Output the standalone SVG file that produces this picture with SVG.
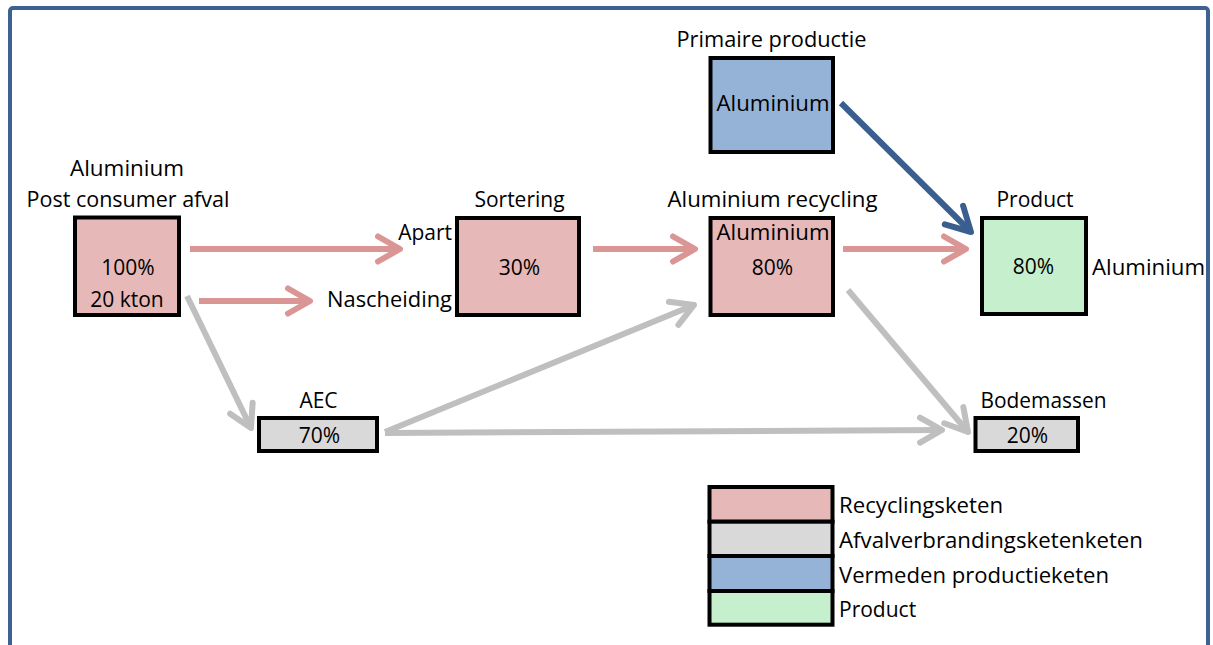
<svg xmlns="http://www.w3.org/2000/svg" width="1213" height="645" viewBox="0 0 1213 645">
<style>
text{font-family:"Open Sans","Liberation Sans",sans-serif;font-size:21px;fill:#000}
.m{text-anchor:middle}
.e{text-anchor:end}
.box{stroke:#000;stroke-width:4}
.pink{fill:#e6b8b7}.gray{fill:#d9d9d9}.blue{fill:#95b3d7}.green{fill:#c6efce}
.conn line{stroke-width:6;fill:none}
.cp{stroke:#da9694}.cg{stroke:#bfbfbf}.cb{stroke:#3a5f8f}
</style>
<defs>
<marker id="ap" markerUnits="userSpaceOnUse" viewBox="-30 -20 40 40" refX="0" refY="0" markerWidth="40" markerHeight="40" orient="auto" overflow="visible"><path d="M-22,-12.5 L0,0 L-22,12.5" fill="none" stroke="#da9694" stroke-width="6" stroke-linecap="round" stroke-linejoin="round"/></marker>
<marker id="ag" markerUnits="userSpaceOnUse" viewBox="-30 -20 40 40" refX="0" refY="0" markerWidth="40" markerHeight="40" orient="auto" overflow="visible"><path d="M-22,-12.5 L0,0 L-22,12.5" fill="none" stroke="#bfbfbf" stroke-width="6" stroke-linecap="round" stroke-linejoin="round"/></marker>
<marker id="ab" markerUnits="userSpaceOnUse" viewBox="-30 -20 40 40" refX="0" refY="0" markerWidth="40" markerHeight="40" orient="auto" overflow="visible"><path d="M-24,-13 L0,0 L-24,13" fill="none" stroke="#3a5f8f" stroke-width="6" stroke-linecap="round" stroke-linejoin="round"/></marker>
</defs>
<rect x="0" y="0" width="1213" height="645" fill="#fff"/>
<rect id="frame" x="10" y="8" width="1198" height="680" rx="3" fill="none" stroke="#3d6190" stroke-width="4"/>

<g id="connectors" class="conn">
<line class="cp" x1="190" y1="249" x2="400" y2="249" marker-end="url(#ap)"/>
<line class="cp" x1="199" y1="301" x2="310" y2="301" marker-end="url(#ap)"/>
<line class="cp" x1="593" y1="249" x2="695" y2="249" marker-end="url(#ap)"/>
<line class="cp" x1="843" y1="249" x2="966" y2="249" marker-end="url(#ap)"/>
<line class="cb" x1="841" y1="103" x2="971" y2="232" marker-end="url(#ab)"/>
<line class="cg" x1="187" y1="296" x2="251" y2="428" marker-end="url(#ag)"/>
<line class="cg" x1="385" y1="432" x2="694" y2="305" marker-end="url(#ag)"/>
<line class="cg" x1="385" y1="433" x2="942" y2="430" marker-end="url(#ag)"/>
<line class="cg" x1="848" y1="290" x2="968" y2="432" marker-end="url(#ag)"/>
</g>

<g id="post-consumer">
<text class="m" x="127" y="176" textLength="114" lengthAdjust="spacingAndGlyphs">Aluminium</text>
<text class="m" x="128" y="207" textLength="203" lengthAdjust="spacingAndGlyphs">Post consumer afval</text>
<rect class="box pink" x="75" y="217.5" width="104" height="97.5"/>
<text class="m" x="128" y="275">100%</text>
<text class="m" x="127" y="307">20 kton</text>
</g>

<g id="labels-sortering">
<text class="e" x="452" y="240">Apart</text>
<text class="e" x="452" y="307" textLength="125" lengthAdjust="spacingAndGlyphs">Nascheiding</text>
</g>

<g id="sortering">
<text class="m" x="519.5" y="207">Sortering</text>
<rect class="box pink" x="457" y="218" width="122" height="97"/>
<text class="m" x="519.5" y="275">30%</text>
</g>

<g id="recycling">
<text class="m" x="772.5" y="207" textLength="210" lengthAdjust="spacingAndGlyphs">Aluminium recycling</text>
<rect class="box pink" x="710.5" y="218" width="122.5" height="97"/>
<text class="m" x="773" y="240" textLength="113" lengthAdjust="spacingAndGlyphs">Aluminium</text>
<text class="m" x="772.5" y="275">80%</text>
</g>

<g id="primaire">
<text class="m" x="771.5" y="47" textLength="190" lengthAdjust="spacingAndGlyphs">Primaire productie</text>
<rect class="box blue" x="710.5" y="58" width="122.5" height="94"/>
<text class="m" x="773" y="111" textLength="113" lengthAdjust="spacingAndGlyphs">Aluminium</text>
</g>

<g id="product">
<text class="m" x="1035" y="207">Product</text>
<rect class="box green" x="982" y="218" width="104" height="96"/>
<text class="m" x="1033.5" y="274">80%</text>
<text x="1092" y="275" textLength="113" lengthAdjust="spacingAndGlyphs">Aluminium</text>
</g>

<g id="aec">
<text class="m" x="318.5" y="408">AEC</text>
<rect class="box gray" x="259" y="418" width="118" height="33"/>
<text class="m" x="319.5" y="443">70%</text>
</g>

<g id="bodemassen">
<text class="m" x="1043.5" y="408" textLength="126" lengthAdjust="spacingAndGlyphs">Bodemassen</text>
<rect class="box gray" x="975.5" y="418" width="102.5" height="33"/>
<text class="m" x="1027.5" y="443">20%</text>
</g>

<g id="legend">
<rect class="box pink" x="709.5" y="487" width="123" height="34.7"/>
<rect class="box gray" x="709.5" y="521.7" width="123" height="34.3"/>
<rect class="box blue" x="709.5" y="556" width="123" height="35"/>
<rect class="box green" x="709.5" y="591" width="123" height="33.7"/>
<text x="839" y="513" textLength="164" lengthAdjust="spacingAndGlyphs">Recyclingsketen</text>
<text x="839" y="548" textLength="304" lengthAdjust="spacingAndGlyphs">Afvalverbrandingsketenketen</text>
<text x="839" y="583" textLength="270" lengthAdjust="spacingAndGlyphs">Vermeden productieketen</text>
<text x="839" y="617">Product</text>
</g>
</svg>
